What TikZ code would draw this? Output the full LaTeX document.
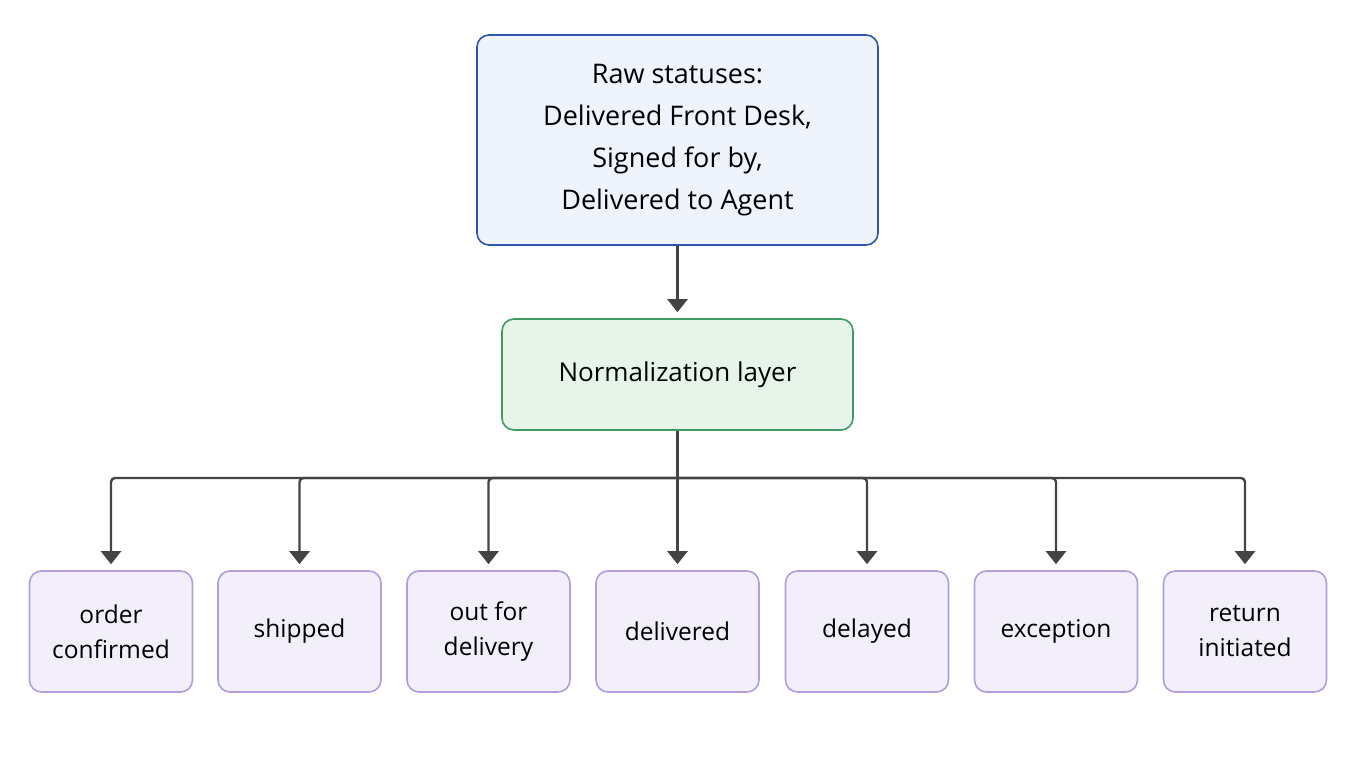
\documentclass[tikz,border=0pt]{standalone}
\usepackage{fontspec}
\setmainfont{Open Sans}
\usepackage{xcolor}
\usetikzlibrary{arrows.meta,positioning}

\definecolor{rawfill}{HTML}{EEF3FC}
\definecolor{rawdraw}{HTML}{2F55B0}
\definecolor{normfill}{HTML}{E6F4EA}
\definecolor{normdraw}{HTML}{3E9B62}
\definecolor{outfill}{HTML}{F2EFFA}
\definecolor{outdraw}{HTML}{B39DDB}
\definecolor{linkcol}{HTML}{444444}

\begin{document}
\begin{tikzpicture}[
    x=1pt, y=-1pt,
    box/.style={rectangle, rounded corners=12pt, line width=1.6pt, align=center},
    rawbox/.style={box, fill=rawfill, draw=rawdraw, minimum width=401pt, minimum height=210pt,
        font=\fontsize{27}{42}\selectfont},
    normbox/.style={box, fill=normfill, draw=normdraw, minimum width=351pt, minimum height=111pt,
        font=\fontsize{26}{30}\selectfont},
    outbox/.style={box, fill=outfill, draw=outdraw, minimum width=163pt, minimum height=121pt,
        font=\fontsize{24.5}{35}\selectfont},
    line/.style={line width=2.4pt, draw=linkcol},
    arrow/.style={line, -{Triangle[width=20pt,length=13pt]}, shorten >=6pt, rounded corners=4pt}
]

\useasboundingbox (0,0) rectangle (1360,768);

\node[rawbox] (raw) at (677.5,140) {Raw statuses:\\Delivered Front Desk,\\Signed for by,\\Delivered to Agent};
\node[normbox] (norm) at (677.5,374.5) {Normalization layer};

\node[outbox] (confirmed) at (111,631.5) {order\\confirmed};
\node[outbox] (shipped) at (299.5,631.5) {shipped};
\node[outbox] (outdel) at (488.5,631.5) {out for\\delivery};
\node[outbox] (delivered) at (677.5,631.5) {delivered};
\node[outbox] (delayed) at (867,631.5) {delayed};
\node[outbox] (exception) at (1056,631.5) {exception};
\node[outbox] (return) at (1245,631.5) {return\\initiated};

\draw[arrow] (raw) -- (norm);

% fan out to the normalized statuses
\coordinate (bus) at (677.5,478);
\draw[line] (norm.south) -- (bus);
\foreach \s in {confirmed,shipped,outdel,delivered,delayed,exception,return}
    \draw[arrow] (bus) -| (\s.north);

\end{tikzpicture}
\end{document}
